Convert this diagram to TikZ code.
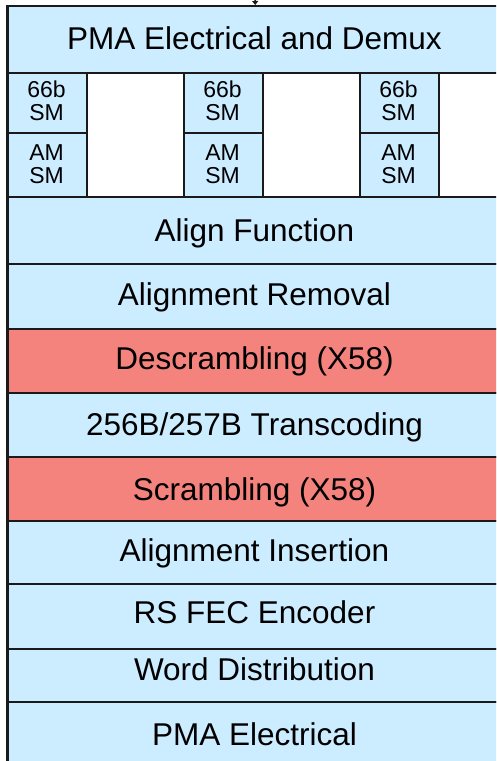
\documentclass[tikz,border=0pt]{standalone}
\usepackage{fontspec}
\setmainfont{Liberation Sans}
\usetikzlibrary{arrows.meta}
\definecolor{layerblue}{HTML}{CCECFF}
\definecolor{layerred}{HTML}{F4837D}
\definecolor{edgeink}{HTML}{1A1A1A}

\tikzset{
  band/.style={draw=edgeink, line width=1.5pt, fill=layerblue, inner sep=0pt,
               minimum width=495pt, anchor=north west},
  hotband/.style={band, fill=layerred},
  smbox/.style={draw=edgeink, line width=1.5pt, fill=layerblue, inner sep=0pt,
                minimum width=79pt, anchor=north west},
  bigtext/.style={font=\fontsize{31.5}{38}\selectfont, inner sep=0pt, anchor=base},
  smalltext/.style={font=\fontsize{23}{23}\selectfont, align=center, inner sep=0pt},
}

\begin{document}
\begin{tikzpicture}[x=1pt,y=-1pt]
  \clip (0,0) rectangle (496,761);
  \fill[white] (0,0) rectangle (496,761);

  % layer stack
  \node[band, minimum height=67pt] (pmademux) at (7,5) {};
  \node[band, minimum height=67pt] (align)   at (7,196) {};
  \node[band, minimum height=65pt] (amrem)   at (7,263) {};
  \node[hotband, minimum height=64pt] (descr) at (7,328) {};
  \node[band, minimum height=64pt] (trans)   at (7,392) {};
  \node[hotband, minimum height=64pt] (scr)  at (7,456) {};
  \node[band, minimum height=63pt] (amins)   at (7,520) {};
  \node[band, minimum height=65pt] (rsfec)   at (7,583) {};
  \node[band, minimum height=53pt] (wdist)   at (7,648) {};
  \node[band, minimum height=69pt] (pmaelec) at (7,701) {};

  % per-lane sync blocks
  \foreach \lane/\x in {1/7, 2/183, 3/359} {
    \node[smbox, minimum height=60pt] (sm\lane)  at (\x,72) {};
    \node[smbox, minimum height=64pt] (am\lane)  at (\x,132) {};
    \node[smalltext] (smt\lane) at (\x+39.5,101) {66b\\SM};
    \node[smalltext] (amt\lane) at (\x+39.5,164.5) {AM\\SM};
  }

  % outer left edge
  \draw[edgeink, line width=3pt] (pmademux.north west) -- (pmaelec.south west);

  % layer labels
  \node[bigtext] (tpmademux) at (254.5,49.3)  {PMA Electrical and Demux};
  \node[bigtext] (talign)    at (254.5,241)   {Align Function};
  \node[bigtext] (tamrem)    at (254.5,305)   {Alignment Removal};
  \node[bigtext] (tdescr)    at (254.5,369)   {Descrambling (X58)};
  \node[bigtext] (ttrans)    at (254.5,435)   {256B/257B Transcoding};
  \node[bigtext] (tscr)      at (254.5,500)   {Scrambling (X58)};
  \node[bigtext] (tamins)    at (254.5,561.7) {Alignment Insertion};
  \node[bigtext] (trsfec)    at (254.5,623.3) {RS FEC Encoder};
  \node[bigtext] (twdist)    at (254.5,680)   {Word Distribution};
  \node[bigtext] (tpmaelec)  at (254.5,745)   {PMA Electrical};

  % incoming arrow
  \coordinate (feed) at (254.5,-30);
  \draw[edgeink, line width=1.5pt, -{Triangle[length=4pt,width=6pt]}] (feed) -- (pmademux.north);
\end{tikzpicture}
\end{document}
